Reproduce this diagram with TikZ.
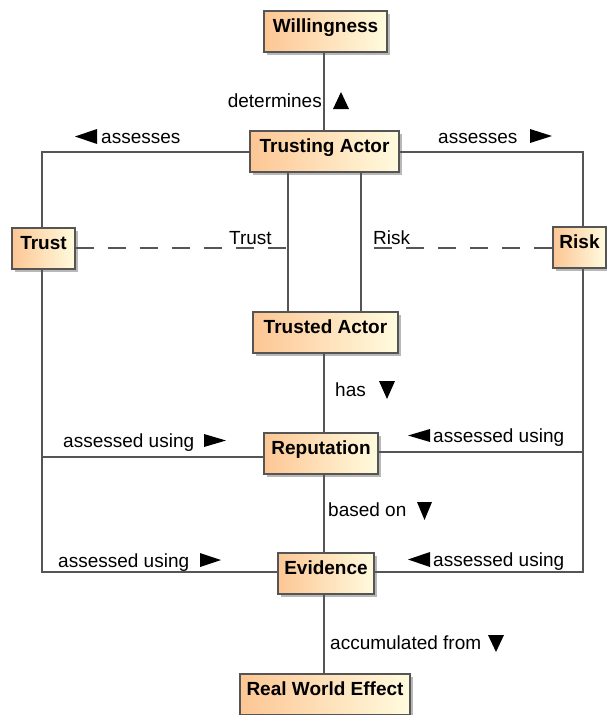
\documentclass[tikz,border=0pt]{standalone}
\usepackage{fontspec}
\setmainfont{Liberation Sans}
\usetikzlibrary{shadows}
\definecolor{boxL}{RGB}{253,198,148}
\definecolor{boxR}{RGB}{255,251,222}
\definecolor{edge}{RGB}{85,85,85}
\begin{document}
\begin{tikzpicture}[x=1pt,y=-1pt,
  cls/.style={draw=edge, line width=1.2pt, left color=boxL, right color=boxR,
    drop shadow={shadow xshift=3pt, shadow yshift=-3pt, fill=black!35, opacity=0.8},
    minimum height=41pt, inner xsep=0pt, inner ysep=0pt,
    text height=21.5pt, text depth=19.5pt,
    font=\fontsize{19}{22}\selectfont\bfseries},
  lbl/.style={inner sep=0pt, anchor=base west, font=\fontsize{19}{22}\selectfont},
  conn/.style={draw=edge, line width=1.2pt},
  assocline/.style={conn, dash pattern=on 18pt off 14pt},
  tri/.style={fill=black}]
\useasboundingbox (0,0) rectangle (607,715);

% classes
\node[cls, minimum width=123pt] (will) at (325.5,31.5) {Willingness};
\node[cls, minimum width=149pt] (ta) at (324.5,151.5) {Trusting Actor};
\node[cls, minimum width=63pt] (trust) at (43.5,248.5) {Trust};
\node[cls, minimum width=53pt] (risk) at (579.5,247.5) {Risk};
\node[cls, minimum width=145pt] (tda) at (325.5,332.5) {Trusted Actor};
\node[cls, minimum width=114pt] (rep) at (321,453.5) {Reputation};
\node[cls, minimum width=96pt] (ev) at (326,573.5) {Evidence};
\node[cls, minimum width=170pt] (rwe) at (325,694.5) {Real World Effect};

% helper coordinates
\coordinate (vx) at (324,0);
\coordinate (L1) at (42,152);
\coordinate (L2) at (42,572);
\coordinate (L3) at (42,457);
\coordinate (R1) at (583,152);
\coordinate (R2) at (583,572);
\coordinate (R3) at (583,452);
\coordinate (V1) at (288,0);
\coordinate (V2) at (361,0);
\coordinate (D1) at (288,248);
\coordinate (D2) at (361,248);

\begin{scope}[on background layer/.try]
\end{scope}

% connectors
\draw[conn] (will.south -| vx) -- (ta.north -| vx);
\draw[conn] (tda.south -| vx) -- (rep.north -| vx);
\draw[conn] (rep.south -| vx) -- (ev.north -| vx);
\draw[conn] (ev.south -| vx) -- (rwe.north -| vx);

\draw[conn] (ta.west |- L1) -- (L1) -- (trust.north -| L1);
\draw[conn] (trust.south -| L1) -- (L2) -- (ev.west |- L2);
\draw[conn] (L3) -- (rep.west |- L3);

\draw[conn] (ta.east |- R1) -- (R1) -- (risk.north -| R1);
\draw[conn] (risk.south -| R1) -- (R2) -- (ev.east |- R2);
\draw[conn] (R3) -- (rep.east |- R3);

\draw[conn] (ta.south -| V1) -- (tda.north -| V1);
\draw[conn] (ta.south -| V2) -- (tda.north -| V2);

\draw[assocline] (trust.east |- D1) -- (D1);
\draw[assocline] (risk.west |- D2) -- (D2);

% labels
\node[lbl, anchor=base east] (l1) at (322,107) {determines};
\node[lbl] (l2) at (101,143) {assesses};
\node[lbl] (l3) at (438,143) {assesses};
\node[lbl] (l4) at (229,244) {Trust};
\node[lbl] (l5) at (373,244) {Risk};
\node[lbl] (l6) at (335,396) {has};
\node[lbl] (l7) at (63,447) {assessed using};
\node[lbl] (l8) at (433,442) {assessed using};
\node[lbl] (l9) at (328,516) {based on};
\node[lbl] (l10) at (58,567) {assessed using};
\node[lbl] (l11) at (433,566) {assessed using};
\node[lbl] (l12) at (330,649) {accumulated from};

% direction triangles
\fill[tri] (333,109) -- (349,109) -- (341,92) -- cycle;
\fill[tri] (75,136.5) -- (97,129) -- (97,144) -- cycle;
\fill[tri] (530,129) -- (530,143) -- (552,136) -- cycle;
\fill[tri] (379,381) -- (395,381) -- (387,399) -- cycle;
\fill[tri] (204,434) -- (204,447) -- (226,440.5) -- cycle;
\fill[tri] (408,435.5) -- (430,429) -- (430,442) -- cycle;
\fill[tri] (417,502) -- (432,502) -- (424.5,520) -- cycle;
\fill[tri] (200,553) -- (200,567) -- (221,560) -- cycle;
\fill[tri] (408,559.5) -- (430,552) -- (430,567) -- cycle;
\fill[tri] (488,635) -- (504,635) -- (496,652) -- cycle;
\end{tikzpicture}
\end{document}
